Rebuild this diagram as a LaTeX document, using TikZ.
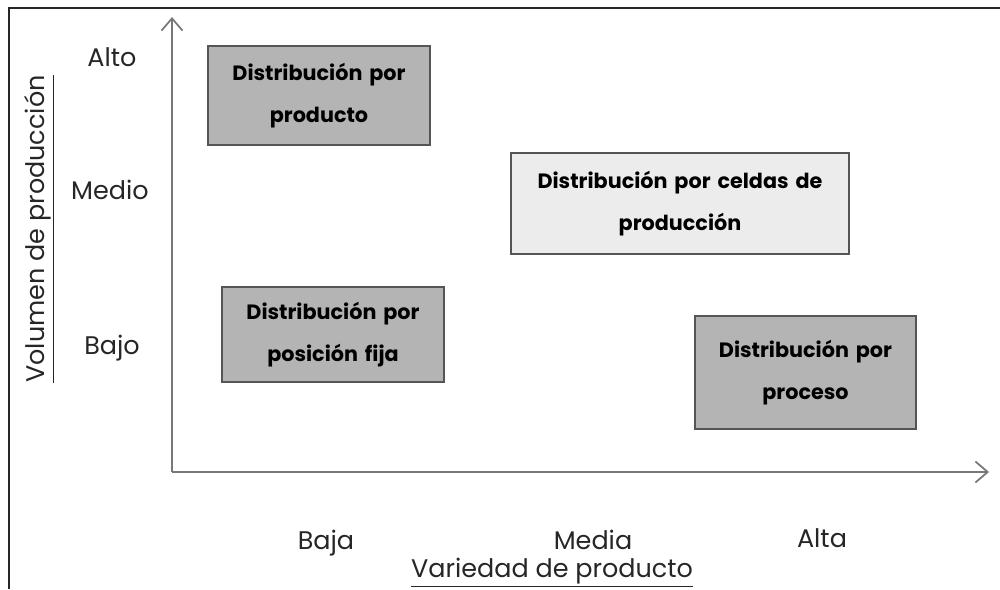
\documentclass[tikz,border=0pt]{standalone}
\usepackage{fontspec}
\setmainfont{Poppins}
\usetikzlibrary{arrows.meta, positioning}
\definecolor{axisgray}{RGB}{120,120,120}
\definecolor{edgegray}{RGB}{85,85,85}
\definecolor{darkfill}{RGB}{180,180,180}
\definecolor{lightfill}{RGB}{236,236,236}
\tikzstyle{block} = [rectangle, draw=edgegray, line width=0.9pt, fill=darkfill,
text width=12em, align=center, inner sep=0pt,
font=\fontsize{11.8}{23.5}\selectfont\bfseries]
\tikzstyle{axis} = [draw=axisgray, line width=1pt, -{Straight Barb[length=7pt, width=12pt]}]
\tikzstyle{tick} = [anchor=base, font=\fontsize{14.5}{17}\selectfont, text=black!85]
\tikzstyle{title} = [anchor=base, font=\fontsize{14.5}{17}\selectfont, text=black!85]

\begin{document}
\begin{tikzpicture}[x=0.02cm, y=-0.02cm]
    \useasboundingbox (0,0) rectangle (1000,589);
    % frame
    \draw [line width=1.4pt, black!85] (1000,8) -- (9,8) -- (9,589);
    % axes
    \coordinate (origin) at (172,472);
    \coordinate (ytop) at (172,17);
    \coordinate (xend) at (989,472);
    \path [axis] (origin) -- (ytop);
    \path [axis] (origin) -- (xend);
    % boxes
    \node [block, minimum width=222*0.02cm, minimum height=99*0.02cm] (producto) at (319,95.5) {Distribución por\\producto};
    \node [block, fill=lightfill, text width=18em, minimum width=338*0.02cm, minimum height=101*0.02cm] (celdas) at (680,203.5) {Distribución por celdas de\\producción};
    \node [block, minimum width=222*0.02cm, minimum height=95*0.02cm] (fija) at (333,334.5) {Distribución por\\posición fija};
    \node [block, minimum width=221*0.02cm, minimum height=113*0.02cm] (proceso) at (805.5,372.5) {Distribución por\\proceso};
    % axis labels
    \node [tick] (alto) at (112,66) {Alto};
    \node [tick] (medio) at (110,199) {Medio};
    \node [tick] (bajo) at (112,354) {Bajo};
    \node [tick] (baja) at (326,549) {Baja};
    \node [tick] (media) at (593,549) {Media};
    \node [tick] (alta) at (822,547) {Alta};
    \node [title, rotate=90] (volumen) at (44,229) {\underline{Volumen de producción}};
    \node [title] (variedad) at (552,577) {\underline{Variedad de producto}};
\end{tikzpicture}
\end{document}
